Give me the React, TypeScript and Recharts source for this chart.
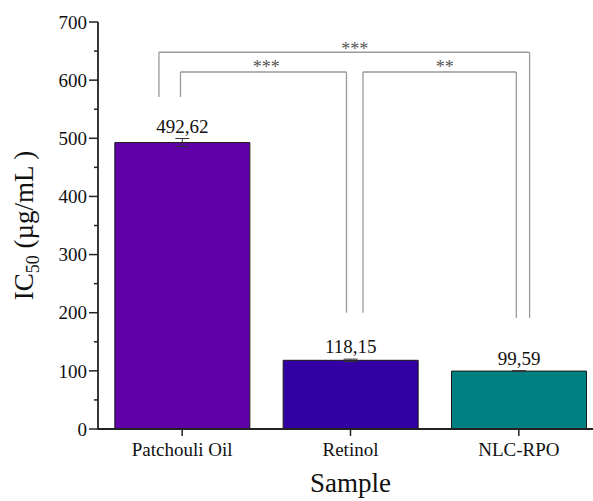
import {
  BarChart,
  Bar,
  Cell,
  XAxis,
  YAxis,
  ErrorBar,
  LabelList,
  ReferenceLine,
  ReferenceDot,
} from "recharts";

// values
const samples = ["Patchouli Oil", "Retinol", "NLC-RPO"];
const ic50 = [492.62, 118.15, 99.59];
const ic50Err = [7, 2, 0.8];
const barColors = ["#6000A8", "#3200A3", "#008080"];
const yTicks = [0, 50, 100, 150, 200, 250, 300, 350, 400, 450, 500, 550, 600, 650, 700];

// significance brackets, in data units (x = category index)
const brackets = [
  { x1: -0.138, x2: 2.064, top: 648, leftEnd: 571, rightEnd: 191, stars: "***", starX: 1.025, starY: 659 },
  { x1: -0.01, x2: 0.976, top: 614, leftEnd: 571, rightEnd: 200, stars: "***", starX: 0.5, starY: 628 },
  { x1: 1.074, x2: 1.985, top: 614, leftEnd: 200, rightEnd: 191, stars: "**", starX: 1.56, starY: 628 },
];

const data = samples.map((name, i) => ({
  name,
  idx: i,
  value: ic50[i],
  err: ic50Err[i],
}));

const FONT = "'Liberation Serif', 'Times New Roman', serif";
const AXIS = "#222";
const BRACKET = "#9a9a9a";

const XTick = (props: any) => {
  const { x, y, payload } = props;
  return (
    <text x={x} y={y} dy="0.71em" textAnchor="middle" fontFamily={FONT} fontSize={19} fill="#111">
      {payload.value}
    </text>
  );
};

const YTick = (props: any) => {
  const { x, y, payload } = props;
  const major = payload.value % 100 === 0;
  const axisX = x + 11;
  return (
    <g>
      <line x1={axisX - (major ? 9 : 4)} x2={axisX} y1={y} y2={y} stroke={AXIS} strokeWidth={1.5} />
      {major && (
        <text x={x} y={y} dy="0.35em" textAnchor="end" fontFamily={FONT} fontSize={19} fill="#111">
          {payload.value}
        </text>
      )}
    </g>
  );
};

const YTitle = (props: any) => {
  const vb = props.viewBox || { x: 0, y: 0, height: 0 };
  const cx = vb.x + 33;
  const cy = vb.y + vb.height / 2;
  return (
    <text
      x={cx}
      y={cy}
      transform={`rotate(-90, ${cx}, ${cy})`}
      textAnchor="middle"
      fontFamily={FONT}
      fontSize={27}
      fill="#111"
    >
      IC
      <tspan fontSize={18} dy={6}>
        50
      </tspan>
      <tspan dy={-6}> (µg/mL )</tspan>
    </text>
  );
};

const ValueLabel = (props: any) => {
  const { x, y, width, height, value, index } = props;
  const errPx = value ? (height / value) * ic50Err[index] : 0;
  return (
    <text
      x={x + width / 2}
      y={y - errPx - 6}
      textAnchor="middle"
      fontFamily={FONT}
      fontSize={19}
      fill="#111"
    >
      {Number(value).toFixed(2).replace(".", ",")}
    </text>
  );
};

const App = () => {
  return (
    <div
      style={{
        position: "absolute",
        left: 0,
        top: 0,
        width: 593,
        height: 501,
        overflow: "hidden",
        background: "#fff",
        fontFamily: FONT,
      }}
    >
      <BarChart
        width={620}
        height={501}
        data={data}
        margin={{ top: 22, right: 17, bottom: 0, left: 0 }}
      >
        <XAxis
          dataKey="name"
          height={72}
          interval={0}
          tickSize={7}
          tickMargin={7}
          axisLine={{ stroke: AXIS, strokeWidth: 1.8 }}
          tickLine={{ stroke: AXIS, strokeWidth: 1.5 }}
          tick={<XTick />}
          label={{
            value: "Sample",
            position: "insideBottom",
            offset: 9,
            fontFamily: FONT,
            fontSize: 27,
            fill: "#111",
          }}
        />
        {/* top frame line, also used as numeric x axis for the brackets */}
        <XAxis
          xAxisId="top"
          orientation="top"
          dataKey="idx"
          type="number"
          domain={[-0.5, 2.5]}
          allowDataOverflow
          height={0}
          tick={false}
          tickLine={false}
          axisLine={{ stroke: AXIS, strokeWidth: 1.8 }}
        />
        <YAxis
          type="number"
          domain={[0, 700]}
          ticks={yTicks}
          interval={0}
          width={98}
          tickSize={9}
          tickMargin={2}
          tickLine={false}
          tick={<YTick />}
          axisLine={{ stroke: AXIS, strokeWidth: 1.8 }}
          label={<YTitle />}
        />
        <Bar
          dataKey="value"
          stroke="#1a1a1a"
          strokeWidth={1}
          isAnimationActive={false}
        >
          {data.map((d, i) => (
            <Cell key={d.name} fill={barColors[i]} />
          ))}
          <ErrorBar dataKey="err" width={7} stroke="#333" strokeWidth={1} />
          <LabelList dataKey="value" content={<ValueLabel />} />
        </Bar>
        {brackets.map((b, i) => [
          <ReferenceLine
            key={`l${i}`}
            xAxisId="top"
            segment={[
              { x: b.x1, y: b.leftEnd },
              { x: b.x1, y: b.top },
            ]}
            stroke={BRACKET}
            strokeWidth={1.3}
          />,
          <ReferenceLine
            key={`t${i}`}
            xAxisId="top"
            segment={[
              { x: b.x1, y: b.top },
              { x: b.x2, y: b.top },
            ]}
            stroke={BRACKET}
            strokeWidth={1.3}
          />,
          <ReferenceLine
            key={`r${i}`}
            xAxisId="top"
            segment={[
              { x: b.x2, y: b.top },
              { x: b.x2, y: b.rightEnd },
            ]}
            stroke={BRACKET}
            strokeWidth={1.3}
          />,
          <ReferenceDot
            key={`s${i}`}
            xAxisId="top"
            x={b.starX}
            y={b.starY}
            r={0}
            shape={(p: any) => (
              <text
                x={p.cx}
                y={p.cy}
                dy={9}
                textAnchor="middle"
                fontFamily={FONT}
                fontSize={18}
                fill="#555"
              >
                {b.stars}
              </text>
            )}
          />,
        ])}
      </BarChart>
    </div>
  );
};

export default App;
